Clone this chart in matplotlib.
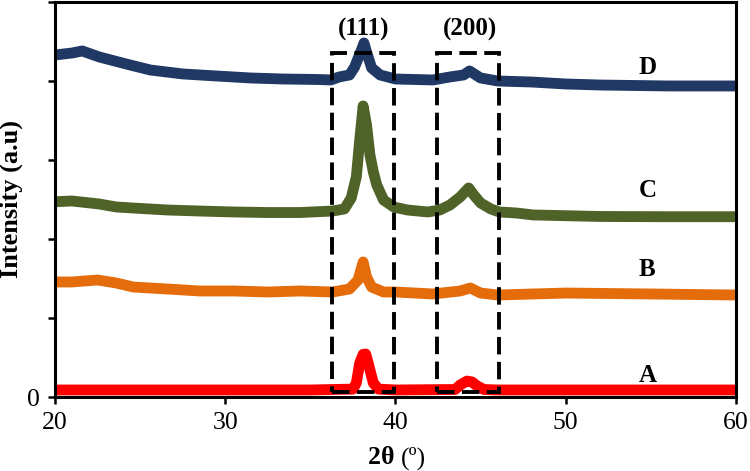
import matplotlib
matplotlib.use("Agg")
import matplotlib.pyplot as plt
from matplotlib.patches import Rectangle

plt.rcParams['font.family'] = ['Liberation Serif', 'DejaVu Serif']

# ---- data ----
d_x = [20, 21, 21.6, 22.6, 24.4, 25.6, 27.5, 29.5, 31.5, 33.4, 35.4, 36.2, 36.7, 37.3, 37.6,
       38.0, 38.15, 38.3, 38.6, 39.1, 40, 42.2, 43.2, 44.0, 44.35, 45.0, 46.0, 48, 50, 52, 54, 56, 58, 60]
d_y = [4329, 4354, 4380, 4304, 4203, 4139, 4089, 4063, 4038, 4025, 4019, 4013, 4051, 4076, 4177,
       4392, 4481, 4367, 4165, 4076, 4025, 4013, 4051, 4076, 4127, 4038, 4000, 3987, 3962, 3949, 3943, 3937, 3937, 3937]

c_x = [20, 21, 22.6, 23.6, 24.6, 26.6, 28.5, 30.5, 32.5, 34.4, 36.3, 37.0, 37.4, 37.7, 37.9, 38.1,
       38.3, 38.5, 38.7, 38.9, 39.3, 39.9, 40.7, 41.9, 42.6, 43.2, 43.8, 44.3, 44.6, 45.0, 45.6,
       46.1, 47.1, 48.1, 52, 56, 60]
c_y = [2472, 2481, 2443, 2405, 2392, 2367, 2354, 2342, 2335, 2335, 2354, 2380, 2519, 2785, 3253, 3684,
       3443, 3063, 2848, 2684, 2494, 2405, 2367, 2342, 2367, 2430, 2532, 2646, 2557, 2456, 2380,
       2342, 2329, 2304, 2285, 2282, 2282]

b_x = [20, 21, 22.5, 23.6, 24.6, 26.6, 28.5, 30.5, 32.5, 34.4, 36.3, 37.3, 37.8, 38.1, 38.3, 38.6,
       39.3, 40, 42.2, 43.8, 44.4, 45, 46, 50, 55, 60]
b_y = [1456, 1456, 1481, 1443, 1392, 1367, 1342, 1342, 1329, 1342, 1329, 1367, 1481, 1709, 1519, 1392,
       1329, 1329, 1304, 1342, 1380, 1316, 1291, 1316, 1304, 1291]

a_x = [20, 25, 30, 35, 37.5, 37.7, 37.9, 38.1, 38.25, 38.4, 38.55, 38.7, 39.0, 40, 43.5, 43.8,
       44.2, 44.5, 44.8, 45.2, 46, 50, 60]
a_y = [89, 89, 89, 89, 100, 177, 430, 540, 544, 430, 300, 177, 100, 89, 95, 152,
       202, 190, 139, 95, 89, 89, 89]

series_names = ['A', 'B', 'C', 'D']
series_colors = ['#FF0000', '#E46C0A', '#4F6228', '#1F3864']
label_y = [266, 1608, 2620, 4165]
peak_names = ['(111)', '(200)']
peak_pos = [38.1, 44.4]
box_ranges = [(36.3, 39.9), (42.45, 46.1)]

xticks = [20, 30, 40, 50, 60]
yticks = [0, 1000, 2000, 3000, 4000, 5000]
ytick_labels = ['0', '', '', '', '', '']

# ---- figure ----
fig = plt.figure(figsize=(7.5, 4.71), dpi=100)
ax = fig.add_axes([0.0733, 0.1571, 0.9080, 0.8387])

for xs, ys, col in zip([a_x, b_x, c_x, d_x], [a_y, b_y, c_y, d_y], series_colors):
    ax.plot(xs, ys, color=col, lw=7.8, solid_capstyle='round', solid_joinstyle='round', zorder=2)

for (x0, x1) in box_ranges:
    ax.add_patch(Rectangle((x0, 63), x1 - x0, 4355 - 63, fill=False, edgecolor='black',
                           lw=2.8, linestyle=(0, (4.5, 1.9)), zorder=3))

for name, py in zip(series_names, label_y):
    ax.text(54.8, py, name, ha='center', va='center', fontsize=18, fontweight='bold')

for name, px in zip(peak_names, peak_pos):
    ax.text(px, 4646, name, ha='center', va='center', fontsize=18, fontweight='bold')

ax.set_xlim(20, 60)
ax.set_ylim(0, 5000)
ax.set_xticks(xticks)
ax.set_xticklabels([str(t) for t in xticks])
ax.set_yticks(yticks)
ax.set_yticklabels(ytick_labels)
ax.tick_params(direction='out', length=5, width=1.8, labelsize=18.5, pad=6)
for s in ax.spines.values():
    s.set_linewidth(2.2)

ax.set_ylabel('Intensity (a.u)', fontsize=19, fontweight='bold', labelpad=3)

# x label: bold "2θ" and regular "(º)"
fig.text(0.535, 0.014, '2θ ', ha='right', va='baseline', fontsize=18.5, fontweight='bold')
fig.text(0.535, 0.014, '(º)', ha='left', va='baseline', fontsize=18.5)

fig.savefig('out.png', dpi=100)
